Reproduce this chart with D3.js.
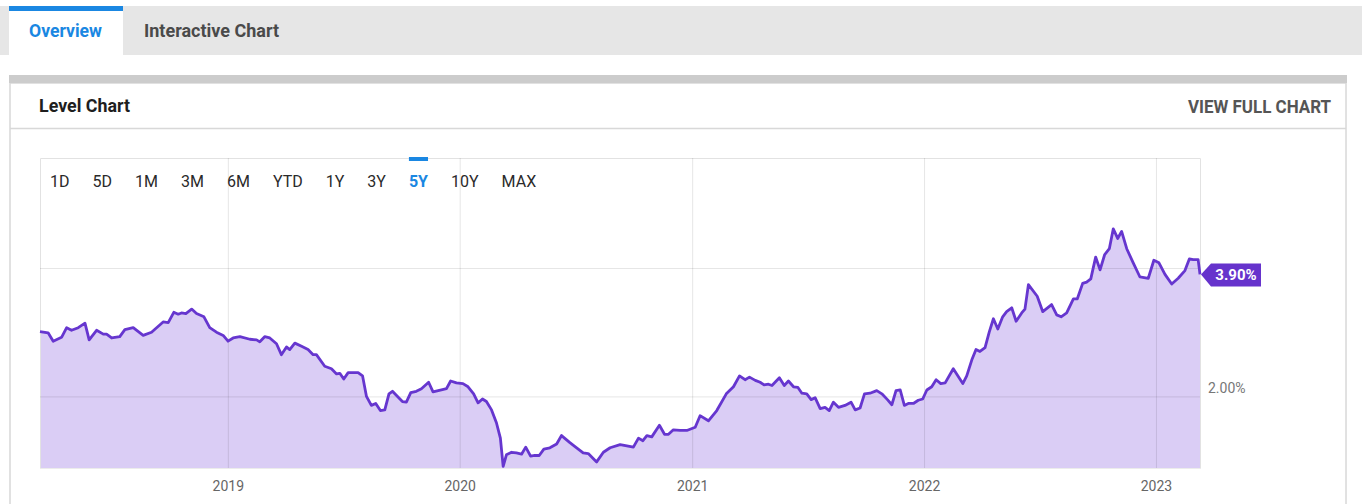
<!DOCTYPE html>
<meta charset="utf-8">
<script src="https://d3js.org/d3.v7.min.js"></script>
<style>
  body { margin: 0; background: #fff; }
  svg text { font-family: Roboto, "Noto Sans", sans-serif; }
</style>
<svg id="chart" width="1362" height="504"></svg>
<script>
  // tabs and range buttons
  const tabs = ["Overview", "Interactive Chart"];
  const ranges = ["1D", "5D", "1M", "3M", "6M", "YTD", "1Y", "3Y", "5Y", "10Y", "MAX"];
  const activeRange = "5Y";
  const yearTicks = [2019, 2020, 2021, 2022, 2023];
  const gridValues = [2, 4];
  const labelValues = [2];
  const lastLabel = "3.90%";

  // weekly points, decimal year
  const weeks = [
    2018.190, 2018.225, 2018.247, 2018.283, 2018.305, 2018.326, 2018.355, 2018.384, 2018.402, 2018.434,
    2018.463, 2018.477, 2018.499, 2018.534, 2018.556, 2018.592, 2018.635, 2018.671, 2018.721, 2018.743,
    2018.767, 2018.786, 2018.800, 2018.819, 2018.844, 2018.865, 2018.897, 2018.922, 2018.951, 2018.980,
    2019.001, 2019.023, 2019.052, 2019.095, 2019.124, 2019.138, 2019.159, 2019.181, 2019.210, 2019.231,
    2019.253, 2019.267, 2019.289, 2019.318, 2019.346, 2019.368, 2019.382, 2019.418, 2019.447, 2019.469,
    2019.483, 2019.500, 2019.519, 2019.562, 2019.581, 2019.598, 2019.619, 2019.638, 2019.658, 2019.677,
    2019.695, 2019.710, 2019.734, 2019.753, 2019.770, 2019.789, 2019.813, 2019.835, 2019.866, 2019.885,
    2019.921, 2019.943, 2019.961, 2019.986,
    2020.014, 2020.036, 2020.060, 2020.079, 2020.098, 2020.115, 2020.137, 2020.158, 2020.175, 2020.187,
    2020.201, 2020.223, 2020.244, 2020.266, 2020.284, 2020.305, 2020.323, 2020.342, 2020.362, 2020.388,
    2020.417, 2020.438, 2020.474, 2020.503, 2020.531, 2020.553, 2020.589, 2020.618, 2020.647, 2020.690,
    2020.719, 2020.747, 2020.769, 2020.788, 2020.805, 2020.826, 2020.859, 2020.881, 2020.898, 2020.919,
    2020.948, 2020.977,
    2021.013, 2021.034, 2021.070, 2021.106, 2021.147, 2021.178, 2021.204, 2021.228, 2021.247, 2021.272,
    2021.293, 2021.310, 2021.329, 2021.344, 2021.376, 2021.397, 2021.415, 2021.437, 2021.456, 2021.473,
    2021.494, 2021.513, 2021.530, 2021.552, 2021.573, 2021.591, 2021.609, 2021.631, 2021.659, 2021.685,
    2021.703, 2021.724, 2021.743, 2021.767, 2021.796, 2021.818, 2021.842, 2021.861, 2021.879, 2021.897,
    2021.915, 2021.932, 2021.954, 2021.975, 2021.994,
    2022.012, 2022.033, 2022.052, 2022.072, 2022.091, 2022.126, 2022.167, 2022.184, 2022.206, 2022.224,
    2022.241, 2022.263, 2022.281, 2022.299, 2022.318, 2022.339, 2022.356, 2022.378, 2022.397, 2022.421,
    2022.435, 2022.450, 2022.488, 2022.512, 2022.550, 2022.572, 2022.591, 2022.615, 2022.644, 2022.661,
    2022.684, 2022.701, 2022.719, 2022.740, 2022.759, 2022.779, 2022.799, 2022.816, 2022.835, 2022.852,
    2022.874, 2022.902, 2022.931, 2022.967, 2022.991,
    2023.013, 2023.039, 2023.068, 2023.096, 2023.125, 2023.144, 2023.161, 2023.182, 2023.190
  ];

  const rates = [
    3.01, 2.99, 2.86, 2.92, 3.07, 3.03, 3.07, 3.14, 2.88, 3.03,
    2.97, 2.97, 2.91, 2.93, 3.04, 3.07, 2.95, 3.00, 3.16, 3.15,
    3.31, 3.28, 3.30, 3.29, 3.36, 3.29, 3.24, 3.07, 3.00, 2.95,
    2.86, 2.91, 2.93, 2.89, 2.88, 2.85, 2.93, 2.91, 2.82, 2.65,
    2.77, 2.73, 2.83, 2.78, 2.73, 2.65, 2.65, 2.47, 2.43, 2.35,
    2.36, 2.27, 2.37, 2.37, 2.32, 2.00, 1.86, 1.89, 1.78, 1.79,
    2.04, 2.08, 1.99, 1.92, 1.91, 2.06, 2.08, 2.12, 2.22, 2.07,
    2.10, 2.12, 2.24, 2.21,
    2.20, 2.15, 2.04, 1.90, 1.96, 1.92, 1.79, 1.59, 1.35, 0.91,
    1.09, 1.13, 1.12, 1.10, 1.21, 1.07, 1.08, 1.08, 1.18, 1.20,
    1.26, 1.39, 1.28, 1.20, 1.12, 1.11, 0.98, 1.13, 1.20, 1.25,
    1.23, 1.21, 1.35, 1.31, 1.39, 1.37, 1.55, 1.41, 1.41, 1.48,
    1.47, 1.47,
    1.52, 1.70, 1.62, 1.78, 2.04, 2.15, 2.32, 2.26, 2.30, 2.25,
    2.22, 2.18, 2.19, 2.17, 2.29, 2.17, 2.24, 2.15, 2.14, 2.05,
    2.04, 1.95, 1.98, 1.81, 1.83, 1.78, 1.91, 1.83, 1.86, 1.91,
    1.79, 1.82, 2.04, 2.05, 2.09, 2.04, 1.95, 1.87, 2.09, 2.10,
    1.86, 1.89, 1.89, 1.94, 1.96,
    2.10, 2.15, 2.26, 2.20, 2.21, 2.43, 2.20, 2.32, 2.57, 2.73,
    2.70, 2.76, 3.00, 3.21, 3.05, 3.24, 3.32, 3.38, 3.17, 3.30,
    3.36, 3.74, 3.56, 3.32, 3.43, 3.27, 3.24, 3.30, 3.52, 3.52,
    3.76, 3.78, 3.83, 4.17, 3.97, 4.21, 4.30, 4.61, 4.46, 4.57,
    4.30, 4.08, 3.86, 3.84, 4.12,
    4.08, 3.90, 3.75, 3.84, 3.96, 4.14, 4.13, 4.13, 3.90
  ];

  const toDate = t => {
    const yr = Math.floor(t);
    const s = new Date(yr, 0, 1), e = new Date(yr + 1, 0, 1);
    return new Date(+s + (t - yr) * (e - s));
  };

  const data = weeks.map((w, i) => ({date: toDate(w), value: rates[i]}));

  const svg = d3.select("#chart");

  // ---- tab bar
  svg.append("rect").attr("x", 0).attr("y", 6).attr("width", 1362).attr("height", 49).attr("fill", "#e6e6e6");
  svg.append("rect").attr("x", 9).attr("y", 6).attr("width", 114).attr("height", 49).attr("fill", "#fff");
  svg.append("rect").attr("x", 9).attr("y", 6).attr("width", 114).attr("height", 5).attr("fill", "#1a87e2");

  const tabPos = [{x: 29, w: 73}, {x: 144, w: 135}];
  svg.selectAll(".tab")
    .data(tabs)
    .enter().append("text")
    .attr("class", "tab")
    .attr("x", (d, i) => tabPos[i].x)
    .attr("y", 37)
    .attr("textLength", (d, i) => tabPos[i].w)
    .attr("lengthAdjust", "spacingAndGlyphs")
    .style("font-size", "19px")
    .style("font-weight", "bold")
    .attr("fill", (d, i) => i === 0 ? "#1a87e2" : "#4a4a4a")
    .text(d => d);

  // ---- panel
  svg.append("rect").attr("x", 10).attr("y", 83).attr("width", 1336).attr("height", 430)
    .attr("fill", "#fff").attr("stroke", "#d8d8d8").attr("stroke-width", 1.5);
  svg.append("rect").attr("x", 9).attr("y", 75).attr("width", 1338).attr("height", 8).attr("fill", "#cccccc");
  svg.append("line").attr("x1", 10).attr("x2", 1346).attr("y1", 128.5).attr("y2", 128.5)
    .attr("stroke", "#d8d8d8").attr("stroke-width", 1.5);

  svg.append("text").attr("x", 39).attr("y", 112)
    .attr("textLength", 91).attr("lengthAdjust", "spacingAndGlyphs")
    .style("font-size", "19px").style("font-weight", "bold").attr("fill", "#1e1e1e")
    .text("Level Chart");
  svg.append("text").attr("x", 1188).attr("y", 113)
    .attr("textLength", 143).attr("lengthAdjust", "spacingAndGlyphs")
    .style("font-size", "18px").style("font-weight", "bold").attr("fill", "#555")
    .text("VIEW FULL CHART");

  // ---- chart
  const plotLeft = 40, plotRight = 1200, plotTop = 158, plotBottom = 468;

  const x = d3.scaleTime()
    .domain([toDate(2018.19), toDate(2023.19)])
    .range([plotLeft, plotRight]);

  const y = d3.scaleLinear()
    .domain([0.885, 5.713])
    .range([plotBottom, plotTop]);

  const area = d3.area()
    .x(d => x(d.date))
    .y0(plotBottom)
    .y1(d => y(d.value));

  const line = d3.line()
    .x(d => x(d.date))
    .y(d => y(d.value));

  svg.append("path")
    .datum(data)
    .attr("d", area)
    .attr("fill", "#dacdf5");

  // frame
  svg.append("path")
    .attr("d", `M${plotLeft + 0.5},${plotBottom}V${plotTop + 0.5}H${plotRight + 0.5}V${plotBottom}`)
    .attr("fill", "none").attr("stroke", "#e2e2e2");
  svg.append("line").attr("x1", plotLeft).attr("x2", plotRight + 1)
    .attr("y1", plotBottom + 0.5).attr("y2", plotBottom + 0.5)
    .attr("stroke", "#ececec");

  // vertical gridlines
  const yearDates = yearTicks.map(yr => new Date(yr, 0, 1));
  svg.append("g")
    .attr("transform", `translate(0,${plotBottom})`)
    .call(d3.axisBottom(x).tickValues(yearDates).tickSize(-(plotBottom - plotTop)).tickFormat(""))
    .call(g => g.select(".domain").remove())
    .call(g => g.selectAll("line").attr("stroke", "#000").attr("stroke-opacity", 0.1));

  // horizontal gridlines
  svg.append("g")
    .attr("transform", `translate(${plotRight},0)`)
    .call(d3.axisRight(y).tickValues(gridValues).tickSize(-(plotRight - plotLeft)).tickFormat(""))
    .call(g => g.select(".domain").remove())
    .call(g => g.selectAll("line").attr("stroke", "#000").attr("stroke-opacity", 0.1));

  svg.append("path")
    .datum(data)
    .attr("d", line)
    .attr("fill", "none")
    .attr("stroke", "#6636cf")
    .attr("stroke-width", 2.8)
    .attr("stroke-linejoin", "round");

  // year labels
  svg.append("g")
    .attr("transform", `translate(0,${plotBottom})`)
    .call(d3.axisBottom(x).tickValues(yearDates).tickSize(0).tickPadding(13).tickFormat(d3.timeFormat("%Y")))
    .call(g => g.select(".domain").remove())
    .call(g => g.selectAll("text").attr("fill", "#666").style("font-size", "14px"));

  // value labels
  svg.append("g")
    .attr("transform", `translate(${plotRight},0)`)
    .call(d3.axisRight(y).tickValues(labelValues).tickSize(0).tickPadding(8).tickFormat(d => d.toFixed(2) + "%"))
    .call(g => g.select(".domain").remove())
    .call(g => g.selectAll("text").attr("dy", "-0.28em").attr("fill", "#777").style("font-size", "14px"));

  // last value badge
  const last = data[data.length - 1];
  const by = y(last.value);
  svg.append("path")
    .attr("d", `M${plotRight + 1},${by}L${plotRight + 11},${by - 11}H${plotRight + 61}V${by + 12}H${plotRight + 11}Z`)
    .attr("fill", "#6633cc");
  svg.append("text")
    .attr("x", plotRight + 36).attr("y", by + 6)
    .attr("text-anchor", "middle")
    .style("font-size", "15px").style("font-weight", "bold")
    .attr("fill", "#fff")
    .text(lastLabel);

  // range buttons
  let bx = 50;
  ranges.forEach(r => {
    const t = svg.append("text")
      .attr("x", bx).attr("y", 187)
      .style("font-size", "16px")
      .style("font-weight", r === activeRange ? "bold" : "normal")
      .attr("fill", r === activeRange ? "#1a87e2" : "#2a2a2a")
      .text(r);
    const w = t.node().getComputedTextLength();
    if (r === activeRange) {
      svg.append("rect").attr("x", bx).attr("y", 157).attr("width", w).attr("height", 4).attr("fill", "#1a87e2");
    }
    bx += w + 23;
  });
</script>
